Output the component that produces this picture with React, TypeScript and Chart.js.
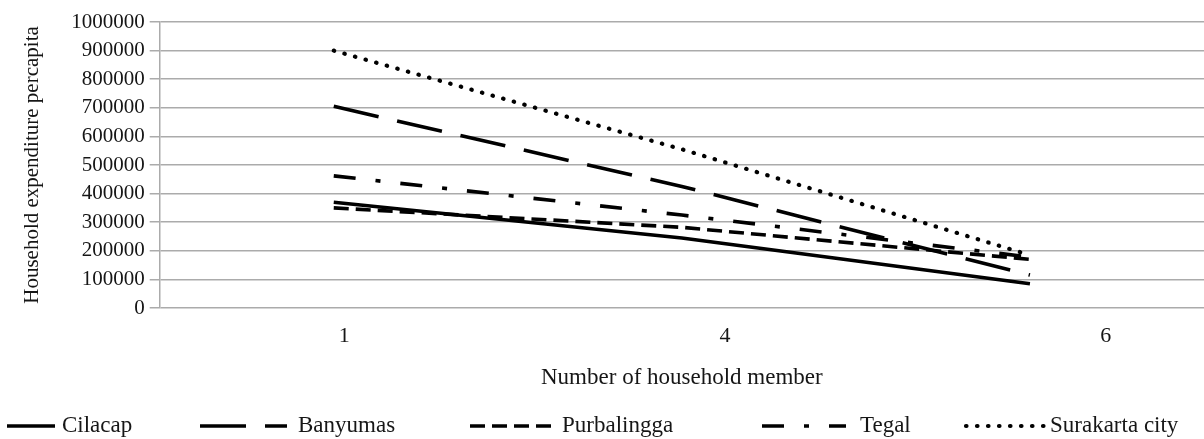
import React, { useEffect, useRef } from "react";
import { Chart, registerables } from "chart.js";

Chart.register(...registerables);

// ---- data ----
const X_LABELS = ["1", "4", "6"];
const X_POS = [0, 1, 2];
const SERIES_NAMES = ["Cilacap", "Banyumas", "Purbalingga", "Tegal", "Surakarta city"];
const CILACAP = [370000, 245000, 85000];
const BANYUMAS = [705000, 425000, 115000];
const PURBALINGGA = [350000, 282000, 170000];
const TEGAL = [462000, 325000, 178000];
const SURAKARTA = [900000, 555000, 185000];
const Y_MIN = 0;
const Y_MAX = 1000000;
const Y_STEP = 100000;
const X_TITLE = "Number of household member";
const Y_TITLE = "Household expenditure percapita";

// ---- styling / layout ----
const FONT = "'Liberation Serif', 'Times New Roman', serif";
const INK = "#161616";
const GRID = "#ababab";
const LINE_WIDTHS = [3.6, 3.6, 3.6, 3.6, 4.2];
const DASHES = [[], [46, 19], [15, 7], [22, 20, 5, 20], [0.5, 10.5]];
const CAPS = ["butt", "butt", "butt", "butt", "round"];
const TICK_START = 0.03;
const TICK_STEP = 1.094;
const LEGEND_Y = 426;
const LEGEND_LINE_X = [7, 200, 470, 762, 966];
const LEGEND_LINE_W = [48, 87, 85, 84, 81];
const LEGEND_TEXT_X = [62, 298, 562, 860, 1050];

const SERIES = [CILACAP, BANYUMAS, PURBALINGGA, TEGAL, SURAKARTA];

const legendPlugin = {
  id: "lineLegend",
  afterDraw(chart: any) {
    const ctx = chart.ctx;
    ctx.save();
    chart.data.datasets.forEach((ds: any, i: number) => {
      const x0 = LEGEND_LINE_X[i];
      ctx.beginPath();
      ctx.setLineDash(ds.borderDash || []);
      ctx.lineCap = ds.borderCapStyle || "butt";
      ctx.lineWidth = ds.borderWidth;
      ctx.strokeStyle = ds.borderColor;
      ctx.moveTo(x0, LEGEND_Y);
      ctx.lineTo(x0 + LEGEND_LINE_W[i], LEGEND_Y);
      ctx.stroke();
      ctx.setLineDash([]);
      ctx.fillStyle = INK;
      ctx.font = `23px ${FONT}`;
      ctx.textBaseline = "middle";
      ctx.textAlign = "left";
      ctx.fillText(ds.label, LEGEND_TEXT_X[i], LEGEND_Y);
    });
    ctx.restore();
  },
};

export default function App() {
  const canvasRef = useRef<HTMLCanvasElement | null>(null);

  useEffect(() => {
    if (!canvasRef.current) return;
    const datasets = SERIES.map((vals, i) => ({
      label: SERIES_NAMES[i],
      data: vals.map((v, j) => ({ x: X_POS[j], y: v })),
      borderColor: "#000000",
      backgroundColor: "#000000",
      borderWidth: LINE_WIDTHS[i],
      borderDash: DASHES[i],
      borderCapStyle: CAPS[i],
      pointRadius: 0,
      tension: 0,
      fill: false,
    }));

    const chart = new Chart(canvasRef.current, {
      type: "line",
      data: { datasets },
      plugins: [legendPlugin],
      options: {
        animation: false,
        responsive: true,
        maintainAspectRatio: false,
        events: [],
        layout: { padding: { left: 8, top: 22, right: 0, bottom: 47 } },
        plugins: {
          legend: { display: false },
          tooltip: { enabled: false },
          title: { display: false },
        },
        scales: {
          x: {
            type: "linear",
            min: -0.5,
            max: 2.5,
            grid: { display: false, drawTicks: false },
            border: { display: false },
            afterBuildTicks: (scale: any) => {
              scale.ticks = X_LABELS.map((_, i) => ({ value: TICK_START + i * TICK_STEP }));
            },
            ticks: {
              autoSkip: false,
              maxRotation: 0,
              padding: 15,
              color: INK,
              font: { family: FONT, size: 22 },
              callback: (_v: any, i: number) => X_LABELS[i],
            },
            title: {
              display: true,
              text: X_TITLE,
              color: INK,
              font: { family: FONT, size: 23 },
              padding: { top: 0, bottom: 0 },
            },
          },
          y: {
            min: Y_MIN,
            max: Y_MAX,
            ticks: {
              stepSize: Y_STEP,
              autoSkip: false,
              padding: 5,
              color: INK,
              font: { family: FONT, size: 21 },
              callback: (v: any) => String(v),
            },
            grid: { color: GRID, lineWidth: 1.5, tickLength: 10, tickColor: GRID },
            border: { color: GRID, width: 1.5 },
            title: {
              display: true,
              text: Y_TITLE,
              color: INK,
              font: { family: FONT, size: 21 },
              padding: { top: 12, bottom: 21 },
            },
          },
        },
      } as any,
    });
    return () => chart.destroy();
  }, []);

  return (
    <div style={{ position: "fixed", left: 0, top: 0, width: 1204, height: 439, background: "#fff" }}>
      <canvas ref={canvasRef} />
    </div>
  );
}
